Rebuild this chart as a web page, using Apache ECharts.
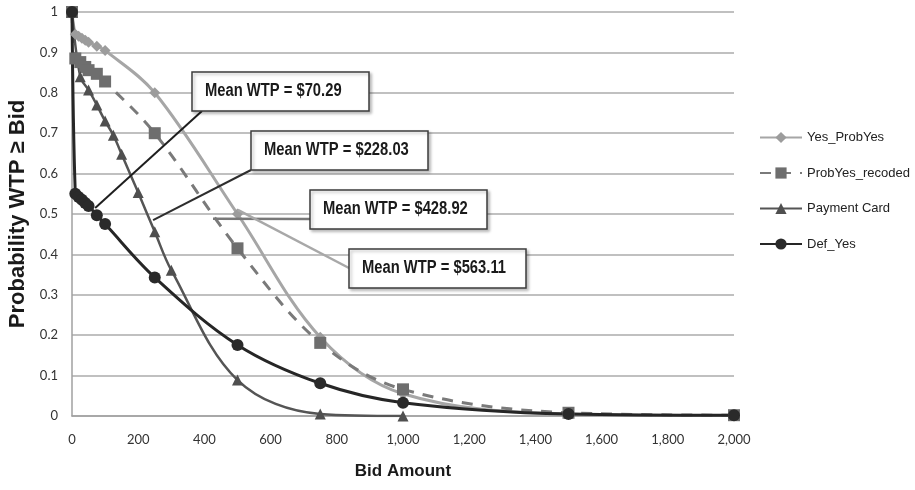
<!DOCTYPE html>
<html>
<head>
<meta charset="utf-8">
<script src="https://cdn.jsdelivr.net/npm/echarts@6/dist/echarts.min.js"></script>
<style>
  html, body { margin: 0; padding: 0; background: #ffffff; }
  #chart { width: 915px; height: 490px; }
</style>
</head>
<body>
<div id="chart"></div>
<script>
// ---- Data ----
const seriesNames = ['Yes_ProbYes', 'ProbYes_recoded', 'Payment Card', 'Def_Yes'];

const yesProbYesBids   = [0, 10, 20, 30, 40, 50, 75, 100, 250, 500, 750, 1000, 1500, 2000];
const yesProbYesValues = [1, 0.945, 0.94, 0.935, 0.93, 0.925, 0.915, 0.905, 0.80, 0.50, 0.195, 0.055, 0.005, 0.001];

const probYesRecodedBids   = [0, 10, 25, 40, 50, 75, 100, 250, 500, 750, 1000, 1500, 2000];
const probYesRecodedValues = [1, 0.885, 0.876, 0.864, 0.856, 0.847, 0.828, 0.70, 0.415, 0.181, 0.066, 0.008, 0.002];

const paymentCardBids   = [0, 25, 50, 75, 100, 125, 150, 200, 250, 300, 500, 750, 1000];
const paymentCardValues = [1, 0.84, 0.807, 0.77, 0.73, 0.695, 0.648, 0.553, 0.456, 0.361, 0.089, 0.005, 0.0];

const defYesBids   = [0, 10, 20, 30, 40, 50, 75, 100, 250, 500, 750, 1000, 1500, 2000];
const defYesValues = [1, 0.55, 0.542, 0.535, 0.527, 0.52, 0.497, 0.475, 0.343, 0.176, 0.081, 0.033, 0.005, 0.002];

const xTickLabels = ['0', '200', '400', '600', '800', '1,000', '1,200', '1,400', '1,600', '1,800', '2,000'];
const yTickLabels = ['0', '0.1', '0.2', '0.3', '0.4', '0.5', '0.6', '0.7', '0.8', '0.9', '1'];

const calloutTexts   = ['Mean WTP = $70.29', 'Mean WTP = $228.03', 'Mean WTP = $428.92', 'Mean WTP = $563.11'];
// data point each leader line points to: [bid, probability]
const calloutTargets = [[70, 0.515], [245, 0.485], [426, 0.488], [501, 0.51]];

// ---- Layout / style (not data) ----
const calloutBoxes = [[192, 72], [251, 131], [310, 190], [349, 249]]; // box top-left pixels
const calloutAnchor = [[202, 111], [251, 170], [310, 219], [349, 268]]; // leader start on box
const leaderColors = ['#1e1e1e', '#2e2e2e', '#787878', '#a8a8a8'];
const boxW = 177, boxH = 39;

function zip(xs, ys) { return xs.map((x, i) => [x, ys[i]]); }

const boldFont = '"Liberation Sans", Arial, sans-serif';

const chart = echarts.init(document.getElementById('chart'), null, { renderer: 'canvas' });

const option = {
  animation: false,
  backgroundColor: '#ffffff',
  grid: { left: 72, right: 181, top: 12, bottom: 74, containLabel: false, outerBoundsMode: 'none' },
  legend: {
    orient: 'vertical',
    left: 759,
    top: 131,
    padding: 0,
    itemWidth: 42,
    itemHeight: 14,
    itemGap: 22.5,
    textStyle: { fontFamily: '"Liberation Sans", Arial, sans-serif', fontSize: 13, color: '#222' },
    data: seriesNames
  },
  xAxis: {
    type: 'value',
    min: 0, max: 2000, interval: 200,
    name: 'Bid Amount',
    nameLocation: 'middle',
    nameGap: 47,
    nameTextStyle: { fontFamily: boldFont, fontWeight: 'bold', fontSize: 17, color: '#1a1a1a' },
    axisLine: { show: true, lineStyle: { color: '#a0a0a0', width: 1.5 } },
    axisTick: { show: false },
    splitLine: { show: false },
    axisLabel: {
      margin: 17,
      fontFamily: 'Lato, "Open Sans", sans-serif',
      fontSize: 13,
      color: '#333',
      formatter: v => xTickLabels[Math.round(v / 200)]
    }
  },
  yAxis: {
    type: 'value',
    min: 0, max: 1, interval: 0.1,
    name: 'Probability WTP \u2265 Bid',
    nameLocation: 'middle',
    nameGap: 43,
    nameTextStyle: { fontFamily: boldFont, fontWeight: 'bold', fontSize: 22, color: '#1a1a1a' },
    axisLine: { show: true, lineStyle: { color: '#a0a0a0', width: 1.5 } },
    axisTick: { show: false },
    splitLine: { show: true, lineStyle: { color: '#ababab', width: 1.5 } },
    axisLabel: {
      margin: 14,
      fontFamily: 'Lato, "Open Sans", sans-serif',
      fontSize: 13,
      color: '#333',
      formatter: v => yTickLabels[Math.round(v * 10)]
    }
  },
  series: [
    {
      name: seriesNames[0], type: 'line', smooth: 0.35,
      data: zip(yesProbYesBids, yesProbYesValues),
      symbol: 'diamond', symbolSize: 11, showAllSymbol: true,
      lineStyle: { color: '#a6a6a6', width: 3 },
      itemStyle: { color: '#9c9c9c' }
    },
    {
      name: seriesNames[1], type: 'line', smooth: 0.35,
      data: zip(probYesRecodedBids, probYesRecodedValues),
      symbol: 'rect', symbolSize: 12, showAllSymbol: true,
      lineStyle: { color: '#7a7a7a', width: 3, type: [11, 9] },
      itemStyle: { color: '#6e6e6e' }
    },
    {
      name: seriesNames[2], type: 'line', smooth: 0.35,
      data: zip(paymentCardBids, paymentCardValues),
      symbol: 'triangle', symbolSize: 11, showAllSymbol: true,
      lineStyle: { color: '#555555', width: 2.5 },
      itemStyle: { color: '#4f4f4f' }
    },
    {
      name: seriesNames[3], type: 'line', smooth: 0.35,
      data: zip(defYesBids, defYesValues),
      symbol: 'circle', symbolSize: 12, showAllSymbol: true,
      lineStyle: { color: '#262626', width: 3 },
      itemStyle: { color: '#2a2a2a' }
    }
  ]
};

chart.setOption(option);

// ---- Callout annotations ----
const graphics = [];
calloutTexts.forEach((txt, i) => {
  const target = chart.convertToPixel({ gridIndex: 0 }, calloutTargets[i]);
  graphics.push({
    type: 'line', z: 50,
    shape: { x1: calloutAnchor[i][0], y1: calloutAnchor[i][1], x2: target[0], y2: target[1] },
    style: { stroke: leaderColors[i], lineWidth: i < 2 ? 2 : 2.5 }
  });
});
calloutTexts.forEach((txt, i) => {
  graphics.push({
    type: 'rect', z: 60,
    shape: { x: calloutBoxes[i][0], y: calloutBoxes[i][1], width: boxW, height: boxH },
    style: { fill: '#ffffff', stroke: '#3c3c3c', lineWidth: 1.5, shadowBlur: 3, shadowOffsetX: 2, shadowOffsetY: 2, shadowColor: 'rgba(0,0,0,0.25)' }
  });
  graphics.push({
    type: 'text', z: 61,
    x: calloutBoxes[i][0] + 13, y: calloutBoxes[i][1] + boxH / 2,
    scaleX: 0.82,
    style: { text: txt, font: 'bold 18px ' + boldFont, fill: '#1a1a1a', verticalAlign: 'middle' }
  });
});
chart.setOption({ graphic: graphics });
</script>
</body>
</html>
